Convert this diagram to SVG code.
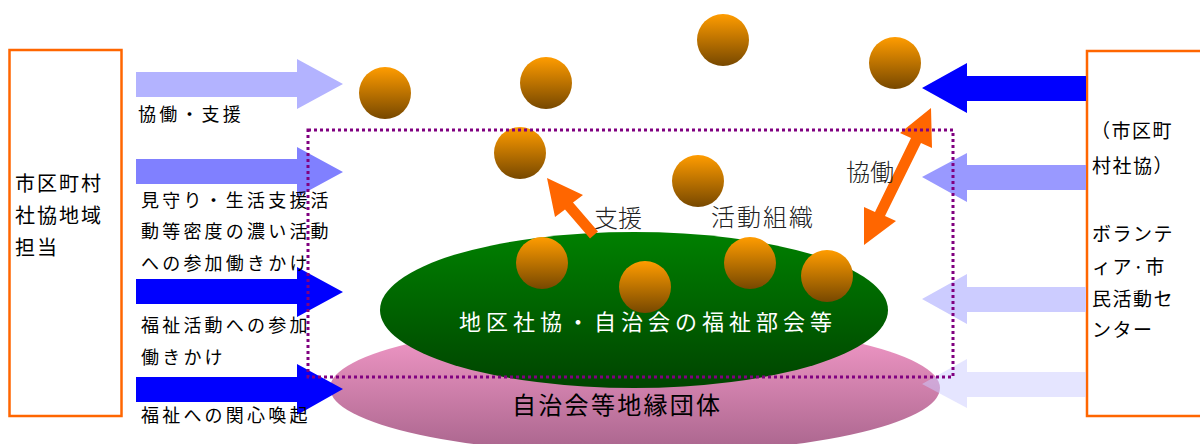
<svg xmlns="http://www.w3.org/2000/svg" width="1200" height="444" viewBox="0 0 1200 444">
<defs>
<linearGradient id="ball" x1="0" y1="0" x2="0" y2="1">
<stop offset="0" stop-color="#FF9C00"/>
<stop offset="1" stop-color="#774800"/>
</linearGradient>
<linearGradient id="green" x1="0" y1="0" x2="0" y2="1">
<stop offset="0" stop-color="#008000"/>
<stop offset="1" stop-color="#004400"/>
</linearGradient>
<linearGradient id="pink" x1="0" y1="0" x2="0" y2="1">
<stop offset="0" stop-color="#F79CCB"/>
<stop offset="1" stop-color="#A8648C"/>
</linearGradient>
<style>
.box{fill:#fff;stroke:#FF6600;stroke-width:2.5}
.t{font-family:"Noto Sans CJK JP","Noto Sans CJK SC",sans-serif;fill:#000}
.s18{font-size:18px;letter-spacing:3.2px}
.s20{font-size:20px;letter-spacing:2px}
.s19{font-size:19px;letter-spacing:1.5px}
.big{font-size:24px;fill:#222;font-weight:300}
.ball{fill:url(#ball)}
.orange{fill:#FF6600}
</style>
</defs>
<g id="ground">
<ellipse id="chiiki" cx="635" cy="388" rx="305" ry="66" fill="url(#pink)"/>
<ellipse id="bukai" cx="634" cy="310" rx="254" ry="78" fill="url(#green)"/>
</g>
<g id="balls">
<circle class="ball" cx="385" cy="93" r="26"/>
<circle class="ball" cx="546" cy="83" r="26"/>
<circle class="ball" cx="723" cy="40" r="26"/>
<circle class="ball" cx="895" cy="63" r="26"/>
<circle class="ball" cx="520" cy="153" r="26"/>
<circle class="ball" cx="698" cy="181" r="26"/>
<circle class="ball" cx="542" cy="263" r="26"/>
<circle class="ball" cx="645" cy="287" r="26"/>
<circle class="ball" cx="750" cy="263" r="26"/>
<circle class="ball" cx="827" cy="276" r="26"/>
</g>
<g id="left-node">
<rect class="box" x="9.5" y="50" width="112" height="366"/>
<text class="t s20" x="15" y="191">市区町村</text>
<text class="t s20" x="15" y="223">社協地域</text>
<text class="t s20" x="15" y="255">担当</text>
</g>
<g id="right-node">
<rect class="box" x="1087" y="51" width="140" height="365"/>
<text class="t s19" x="1091" y="138">（市区町</text>
<text class="t s19" x="1092" y="173">村社協）</text>
<text class="t s19" x="1092" y="241">ボランテ</text>
<text class="t s19" x="1092" y="274">ィア·市</text>
<text class="t s19" x="1092" y="306">民活動セ</text>
<text class="t s19" x="1092" y="337">ンター</text>
</g>
<g id="connectors">
<polygon fill="#B3B3FF" points="136,72 297,72 297,59 343,84 297,109 297,97 136,97"/>
<polygon fill="#8080FF" points="136,159 297,159 297,147 343,172 297,197 297,184 136,184"/>
<polygon fill="#0000FF" points="136,279 297,279 297,267 343,292 297,317 297,304 136,304"/>
<polygon fill="#0000FF" points="136,377 297,377 297,364 343,389 297,415 297,402 136,402"/>
<polygon fill="#0000FF" points="1086,76 967,76 967,63 922,88 967,113 967,101 1086,101"/>
<polygon fill="#9999FF" points="1086,165 967,165 967,153 922,177 967,202 967,190 1086,190"/>
<polygon fill="#CCCCFF" points="1086,287 967,287 967,274 922,299 967,324 967,312 1086,312"/>
<polygon fill="#CCCCFF" fill-opacity="0.5" points="1086,372 967,372 967,359 922,384 967,408 967,397 1086,397"/>
<polygon class="orange" points="547,178 583,195 573,202.5 598,231.5 590,238.5 565,209.5 555,217"/>
<polygon class="orange" points="931,108 932,148 921,143 885,216 896,221 864,245 864,207 875,212 911,138 900,133"/>
</g>
<g id="labels">
<text class="t s18" x="138" y="121">協働・支援</text>
<text class="t s18" x="141" y="207">見守り・生活支援活</text>
<text class="t s18" x="141" y="238">動等密度の濃い活動</text>
<text class="t s18" x="141" y="270">への参加働きかけ</text>
<text class="t s18" x="141" y="332">福祉活動への参加</text>
<text class="t s18" x="141" y="364">働きかけ</text>
<text class="t s18" x="141" y="422">福祉への関心喚起</text>
<text class="t big" x="594" y="227">支援</text>
<text class="t big" x="711" y="226" letter-spacing="2">活動組織</text>
<text class="t big" x="846" y="181">協働</text>
<text class="t" x="459" y="330" font-size="22" letter-spacing="5" style="fill:#fff">地区社協・自治会の福祉部会等</text>
<text class="t" x="512" y="414" font-size="24" letter-spacing="2.3">自治会等地縁団体</text>
</g>
<rect id="activity-area" x="308" y="130" width="645" height="247" fill="none" stroke="#800080" stroke-width="3" stroke-dasharray="3 3"/>
</svg>
